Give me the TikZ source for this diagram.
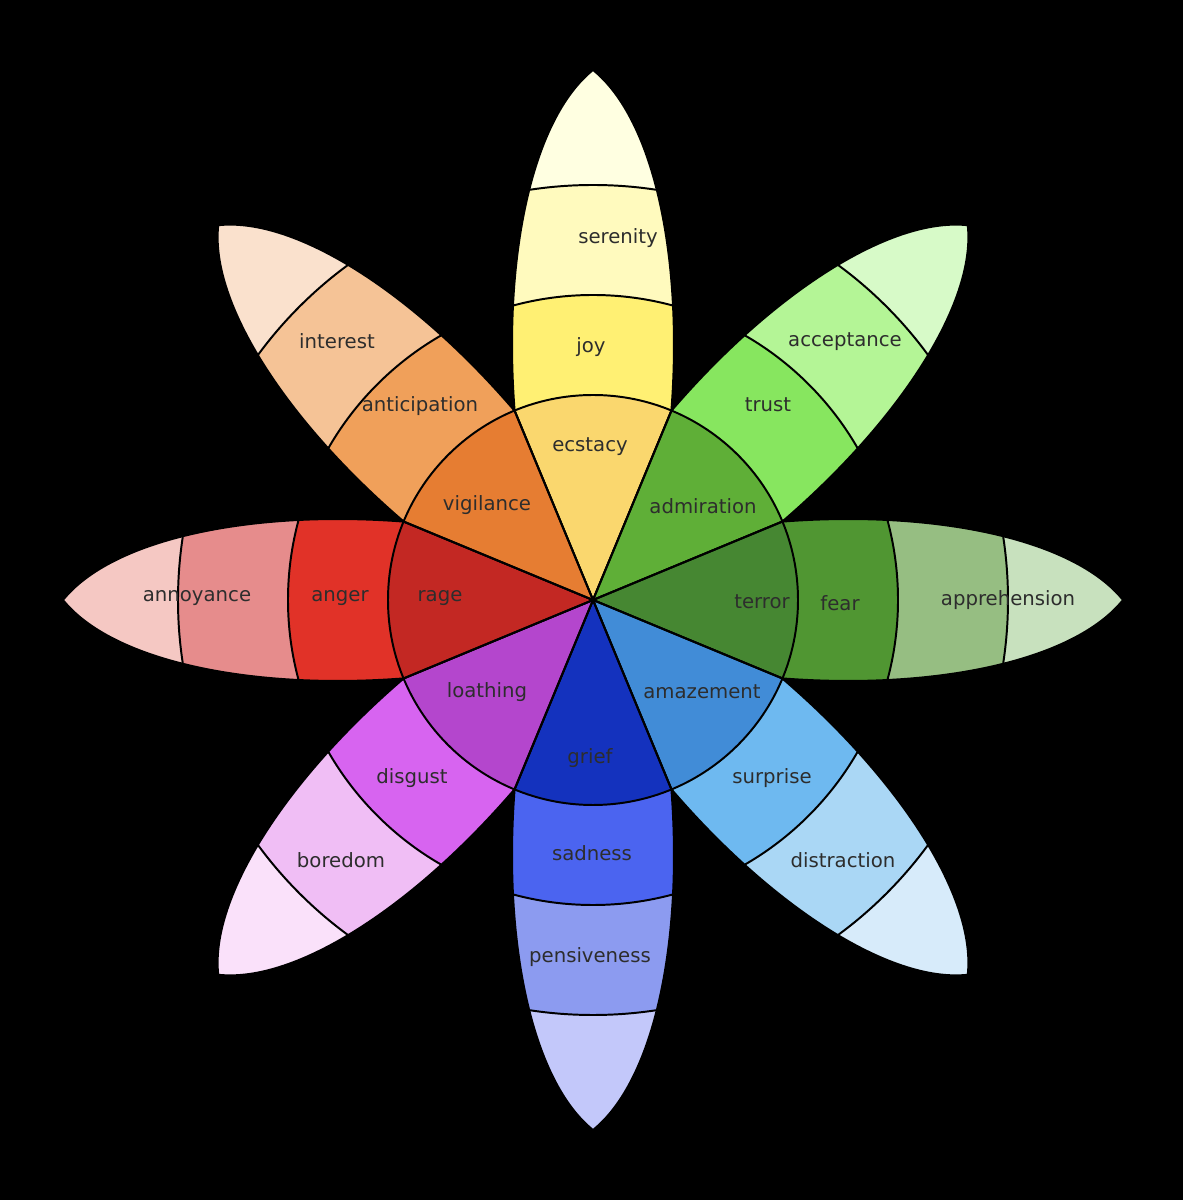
\documentclass[tikz,border=0pt]{standalone}
\usepackage{fontspec}
\setmainfont{DejaVu Sans}
\definecolor{jA}{RGB}{250,215,110}\definecolor{jB}{RGB}{255,240,115}\definecolor{jC}{RGB}{255,250,190}\definecolor{jD}{RGB}{255,255,225}
\definecolor{tA}{RGB}{95,175,55}\definecolor{tB}{RGB}{135,230,95}\definecolor{tC}{RGB}{180,245,150}\definecolor{tD}{RGB}{215,250,200}
\definecolor{fA}{RGB}{70,135,50}\definecolor{fB}{RGB}{80,150,50}\definecolor{fC}{RGB}{150,190,130}\definecolor{fD}{RGB}{200,225,190}
\definecolor{sA}{RGB}{65,140,215}\definecolor{sB}{RGB}{110,185,240}\definecolor{sC}{RGB}{170,215,245}\definecolor{sD}{RGB}{215,235,250}
\definecolor{dA}{RGB}{20,50,190}\definecolor{dB}{RGB}{75,100,240}\definecolor{dC}{RGB}{140,155,240}\definecolor{dD}{RGB}{195,200,250}
\definecolor{gA}{RGB}{180,70,205}\definecolor{gB}{RGB}{215,100,240}\definecolor{gC}{RGB}{240,190,245}\definecolor{gD}{RGB}{250,225,250}
\definecolor{aA}{RGB}{195,40,35}\definecolor{aB}{RGB}{225,50,40}\definecolor{aC}{RGB}{230,140,140}\definecolor{aD}{RGB}{245,200,195}
\definecolor{nA}{RGB}{230,125,50}\definecolor{nB}{RGB}{240,160,90}\definecolor{nC}{RGB}{245,195,150}\definecolor{nD}{RGB}{250,225,205}
\definecolor{txt}{RGB}{45,45,45}
\newcommand{\petalpath}{(189.4,-78.4) .. controls (340,-90) and (480,-62) .. (530,0) .. controls (480,62) and (340,90) .. (189.4,78.4) -- (0,0) -- cycle}
\newcommand{\mypetal}[5]{%
\begin{scope}[rotate=#1]
 \begin{scope}
  \clip \petalpath;
  \fill[#5] (0,0) circle[radius=600];
  \fill[#4] (0,0) circle[radius=415];
  \fill[#3] (0,0) circle[radius=305];
  \draw[edge] (0,0) circle[radius=305];
  \draw[edge] (0,0) circle[radius=415];
 \end{scope}
 \fill[#2] (0,0) -- (-22.5:205) arc[start angle=-22.5,end angle=22.5,radius=205] -- cycle;
 \draw[edge] \petalpath;
\end{scope}}
\begin{document}
\begin{tikzpicture}[x=0.025cm,y=0.025cm,
 edge/.style={draw=black,line width=1.4pt,line join=round},
 lbl/.style={text=txt,font=\fontsize{14}{16}\selectfont,inner sep=0pt}]
\fill[black] (-593,-600) rectangle (590,600);
\mypetal{90}{jA}{jB}{jC}{jD}
\mypetal{45}{tA}{tB}{tC}{tD}
\mypetal{0}{fA}{fB}{fC}{fD}
\mypetal{-45}{sA}{sB}{sC}{sD}
\mypetal{-90}{dA}{dB}{dC}{dD}
\mypetal{-135}{gA}{gB}{gC}{gD}
\mypetal{180}{aA}{aB}{aC}{aD}
\mypetal{135}{nA}{nB}{nC}{nD}
\coordinate (hub) at (0,0);
\draw[edge] (hub) circle[radius=205];
\foreach \a in {22.5,67.5,...,337.5} \draw[edge] (hub) -- (\a:205);
\node[lbl] (serenity) at (25,362) {serenity};
\node[lbl] (joy) at (-2,253) {joy};
\node[lbl] (ecstacy) at (-3,153) {ecstacy};
\node[lbl] (acceptance) at (252,258) {acceptance};
\node[lbl] (trust) at (175,195) {trust};
\node[lbl] (admiration) at (110,94) {admiration};
\node[lbl] (apprehension) at (415,0) {apprehension};
\node[lbl] (fear) at (247,-3) {fear};
\node[lbl] (terror) at (169,-2) {terror};
\node[lbl] (distraction) at (250,-260) {distraction};
\node[lbl] (surprise) at (179,-178) {surprise};
\node[lbl] (amazement) at (109,-92) {amazement};
\node[lbl] (pensiveness) at (-3,-357) {pensiveness};
\node[lbl] (sadness) at (-1,-253) {sadness};
\node[lbl] (grief) at (-3,-158) {grief};
\node[lbl] (boredom) at (-252,-260) {boredom};
\node[lbl] (disgust) at (-181,-178) {disgust};
\node[lbl] (loathing) at (-106,-92) {loathing};
\node[lbl] (annoyance) at (-396,2) {annoyance};
\node[lbl] (anger) at (-253,2) {anger};
\node[lbl] (rage) at (-153,2) {rage};
\node[lbl] (interest) at (-256,259) {interest};
\node[lbl] (anticipation) at (-173,194) {anticipation};
\node[lbl] (vigilance) at (-106,95) {vigilance};
\end{tikzpicture}
\end{document}
